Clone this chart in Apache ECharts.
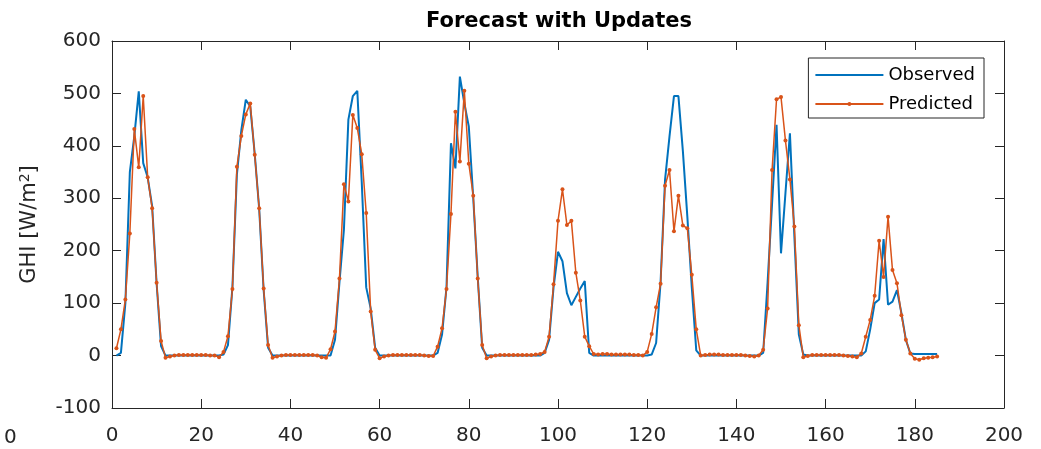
<!DOCTYPE html>
<html><head><meta charset="utf-8">
<script src="https://cdn.jsdelivr.net/npm/echarts@6/dist/echarts.min.js"></script>
<style>html,body{margin:0;padding:0;background:#fff}#c{width:1041px;height:449px}</style>
</head><body><div id="c"></div>
<script>
const titleText = 'Forecast with Updates';
const yAxisName = 'GHI [W/m{sup|2}]';
const seriesNames = ['Observed', 'Predicted'];
const firstHour = 1;
const xTicks = [0, 20, 40, 60, 80, 100, 120, 140, 160, 180, 200];
const yTicks = [-100, 0, 100, 200, 300, 400, 500, 600];

const observed = [
  0,5,100,350,418,504,367,340,285,138,18,0, 0,0,0,0,0,0,0,0,0,0,0,0,
  2,20,130,345,430,488,475,385,280,125,15,0, 0,0,0,0,0,0,0,0,0,0,0,0,
  0,30,140,240,450,495,505,330,130,90,15,0, 0,0,0,0,0,0,0,0,0,0,0,0,
  5,40,130,405,357,532,481,437,300,150,15,0, 0,0,0,0,0,0,0,0,0,0,0,0,
  5,30,130,198,180,119,96,112,128,142,5,0, 0,0,0,0,0,0,0,0,0,0,0,0,
  2,24,140,335,418,495,495,390,265,130,10,0, 0,0,0,0,0,0,0,0,0,0,0,0,
  0,5,140,290,440,195,310,424,227,40,2,0, 0,0,0,0,0,0,0,0,0,0,0,0,
  8,50,100,107,222,97,103,125,81,30,4,3,3,3,3,3,3
];
const predicted = [
  14,50,107,233,432,359,495,340,281,139,28,-4, -2,0,1,1,1,1,1,1,1,0,0,-3,
  7,37,127,360,419,460,481,383,281,128,20,-4, -2,0,1,1,1,1,1,1,1,0,-3,-4,
  12,46,147,327,294,459,434,384,272,84,11,-5, -2,0,1,1,1,1,1,1,1,0,-1,-1,
  17,52,127,270,465,370,505,366,305,147,20,-5, -2,0,1,1,1,1,1,1,1,1,2,3,
  7,36,136,257,317,249,257,158,105,36,18,3, 2,3,3,2,2,2,2,2,1,1,0,7,
  41,92,137,324,354,237,305,248,243,154,50,0, 1,2,2,2,1,1,1,1,1,0,-1,-2,
  0,11,90,354,489,493,410,336,246,58,-3,-1, 1,1,1,1,1,1,1,0,-1,-2,-3,4,
  36,68,114,219,150,265,163,138,77,30,4,-6,-8,-5,-4,-3,-2
];

const toPairs = arr => arr.map((v, i) => [firstHour + i, v]);
const axisColor = '#262626';
const font = 'DejaVu Sans';

const chart = echarts.init(document.getElementById('c'), null, {renderer: 'canvas'});
const xBase = {
  type: 'value', min: xTicks[0], max: xTicks[xTicks.length - 1], interval: xTicks[1] - xTicks[0],
  axisLine: {show: true, onZero: false, lineStyle: {color: axisColor, width: 1}},
  axisTick: {show: true, inside: true, length: 9, lineStyle: {color: axisColor}},
  splitLine: {show: false}
};
const yBase = {
  type: 'value', min: yTicks[0], max: yTicks[yTicks.length - 1], interval: yTicks[1] - yTicks[0],
  axisLine: {show: true, onZero: false, lineStyle: {color: axisColor, width: 1}},
  axisTick: {show: true, inside: true, length: 9, lineStyle: {color: axisColor}},
  splitLine: {show: false}
};
chart.setOption({
  animation: false,
  backgroundColor: '#fff',
  title: {
    text: titleText, left: 421, top: 6,
    textStyle: {fontFamily: font, fontSize: 21, fontWeight: 'bold', color: '#000'}
  },
  grid: {left: 112, right: 37, top: 41, bottom: 41, containLabel: false},
  legend: {
    data: [
      {name: seriesNames[0], itemStyle: {opacity: 0}},
      {name: seriesNames[1]}
    ],
    orient: 'vertical', right: 57, top: 58,
    backgroundColor: '#fff', borderColor: axisColor, borderWidth: 1,
    padding: [8, 9, 5, 6], itemWidth: 68, itemHeight: 5, itemGap: 11,
    textStyle: {fontFamily: font, fontSize: 18, color: '#000', lineHeight: 18}
  },
  xAxis: [
    Object.assign({}, xBase, {position: 'bottom',
      axisLabel: {show: true, margin: 18, fontFamily: font, fontSize: 20, color: axisColor}}),
    Object.assign({}, xBase, {position: 'top', axisLabel: {show: false}})
  ],
  yAxis: [
    Object.assign({}, yBase, {position: 'left',
      name: yAxisName, nameLocation: 'middle', nameGap: 70, nameRotate: 90,
      nameTextStyle: {fontFamily: font, fontSize: 21, color: axisColor, lineHeight: 24,
        rich: {sup: {fontFamily: font, fontSize: 14, color: axisColor, verticalAlign: 'top', lineHeight: 24, padding: [0, 0, 8, 0]}}},
      axisLabel: {show: true, margin: 11, fontFamily: font, fontSize: 20, color: axisColor}}),
    Object.assign({}, yBase, {position: 'right', axisLabel: {show: false}})
  ],
  graphic: [{
    type: 'text', left: 4, top: 428,
    style: {text: '0', fontFamily: font, fontSize: 20, fill: axisColor}
  }],
  series: [
    {name: seriesNames[0], type: 'line', xAxisIndex: 0, yAxisIndex: 0,
     data: toPairs(observed), symbol: 'none',
     lineStyle: {color: '#0072BD', width: 2}, itemStyle: {color: '#0072BD'}},
    {name: seriesNames[1], type: 'line', xAxisIndex: 0, yAxisIndex: 0,
     data: toPairs(predicted), symbol: 'circle', symbolSize: 4, showSymbol: true, showAllSymbol: true,
     lineStyle: {color: '#D95319', width: 1.5}, itemStyle: {color: '#D95319'}}
  ]
});
</script></body></html>
